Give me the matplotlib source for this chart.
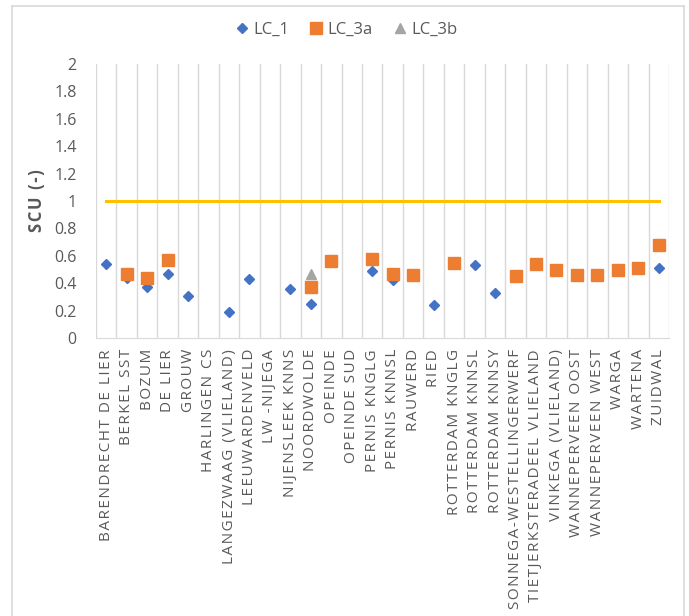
## SCU per location, three load cases
import numpy as np
import matplotlib.pyplot as plt
from matplotlib.lines import Line2D

## Data
locations = ["BARENDRECHT DE LIER", "BERKEL SST", "BOZUM", "DE LIER", "GROUW",
             "HARLINGEN CS", "LANGEZWAAG (VLIELAND)", "LEEUWARDENVELD",
             "LW -NIJEGA", "NIJENSLEEK KNNS", "NOORDWOLDE", "OPEINDE",
             "OPEINDE SUD", "PERNIS KNGLG", "PERNIS KNNSL", "RAUWERD", "RIED",
             "ROTTERDAM KNGLG", "ROTTERDAM KNNSL", "ROTTERDAM KNNSY",
             "SONNEGA-WESTELLINGERWERF", "TIETJERKSTERADEEL VLIELAND",
             "VINKEGA (VLIELAND)", "WANNEPERVEEN OOST", "WANNEPERVEEN WEST",
             "WARGA", "WARTENA", "ZUIDWAL"]
lc_1 = [0.54, 0.44, 0.37, 0.47, 0.31, None, 0.19, 0.43, None, 0.36, 0.25, None,
        None, 0.49, 0.42, None, 0.24, None, 0.53, 0.33, None, None, None, None,
        None, None, None, 0.51]
lc_3a = [None, 0.47, 0.44, 0.57, None, None, None, None, None, None, 0.37, 0.56,
         None, 0.58, 0.47, 0.46, None, 0.55, None, None, 0.45, 0.54, 0.50, 0.46,
         0.46, 0.50, 0.51, 0.68]
lc_3b = [None, None, None, None, None, None, None, None, None, None, 0.47, None,
         None, None, None, None, None, None, None, None, None, None, None, None,
         None, None, None, None]
limit = [1.0] * len(locations)
yticklabels = ['0', '0.2', '0.4', '0.6', '0.8', '1', '1.2', '1.4', '1.6',
               '1.8', '2']

def to_arr(vals):
    return np.array([np.nan if v is None else v for v in vals], dtype=float)

# Excel-style letter spacing
def spaced(s, sp='\u200a'):
    return sp.join(s)

## Figure
plt.rcParams['font.family'] = ['Open Sans', 'DejaVu Sans']
grey = '#595959'
fig = plt.figure(figsize=(6.89, 6.16), dpi=100)
ax = fig.add_axes([0.1393, 0.4513, 0.8317, 0.4447])

x = np.arange(len(locations))
ax.plot(x, limit, color='#FFC000', lw=2.2, zorder=2)
ax.plot(x, to_arr(lc_1), ls='none', marker='D', ms=5.5, color='#4472C4',
        label='LC_1', zorder=3)
ax.plot(x, to_arr(lc_3a), ls='none', marker='s', ms=8, color='#ED7D31',
        label='LC_3a', zorder=3)
ax.plot(x, to_arr(lc_3b), ls='none', marker='^', ms=7.5, color='#A5A5A5',
        label='LC_3b', zorder=3)

ax.set_xlim(-0.5, len(locations) - 0.5)
ax.set_ylim(0, 2)
ax.set_yticks(np.arange(0, 2.01, 0.2))
ax.set_yticklabels(yticklabels)
ax.set_xticks(x)
ax.set_xticklabels([spaced(l) for l in locations], rotation=90, fontsize=11,
                   color=grey)
ax.tick_params(axis='x', length=0, pad=8)
ax.tick_params(axis='y', length=0, pad=14, labelsize=11.5, labelcolor=grey)

# vertical category gridlines
for b in np.arange(-0.5, len(locations), 1.0):
    ax.axvline(b, color='#D9D9D9', lw=1, zorder=1)
for s in ['top', 'right', 'left']:
    ax.spines[s].set_visible(False)
ax.spines['bottom'].set_color('#D9D9D9')

ax.set_ylabel(spaced('SCU (-)'), fontsize=12, fontweight='bold',
              color=grey, labelpad=6)

leg = fig.legend(loc='center', bbox_to_anchor=(0.5, 0.951), ncol=3,
                 frameon=False, fontsize=12, handletextpad=0.1,
                 columnspacing=1.0, handlelength=1.2)
for t in leg.get_texts():
    t.set_color(grey)

# chart border
bc = '#D9D9D9'
fig.add_artist(Line2D([0.018, 0.018], [0, 0.991], color=bc, lw=1.2))
fig.add_artist(Line2D([0.018, 0.993], [0.991, 0.991], color=bc, lw=1.2))
fig.add_artist(Line2D([0.993, 0.993], [0, 0.991], color=bc, lw=1.2))

fig.savefig('out.png', dpi=100)
